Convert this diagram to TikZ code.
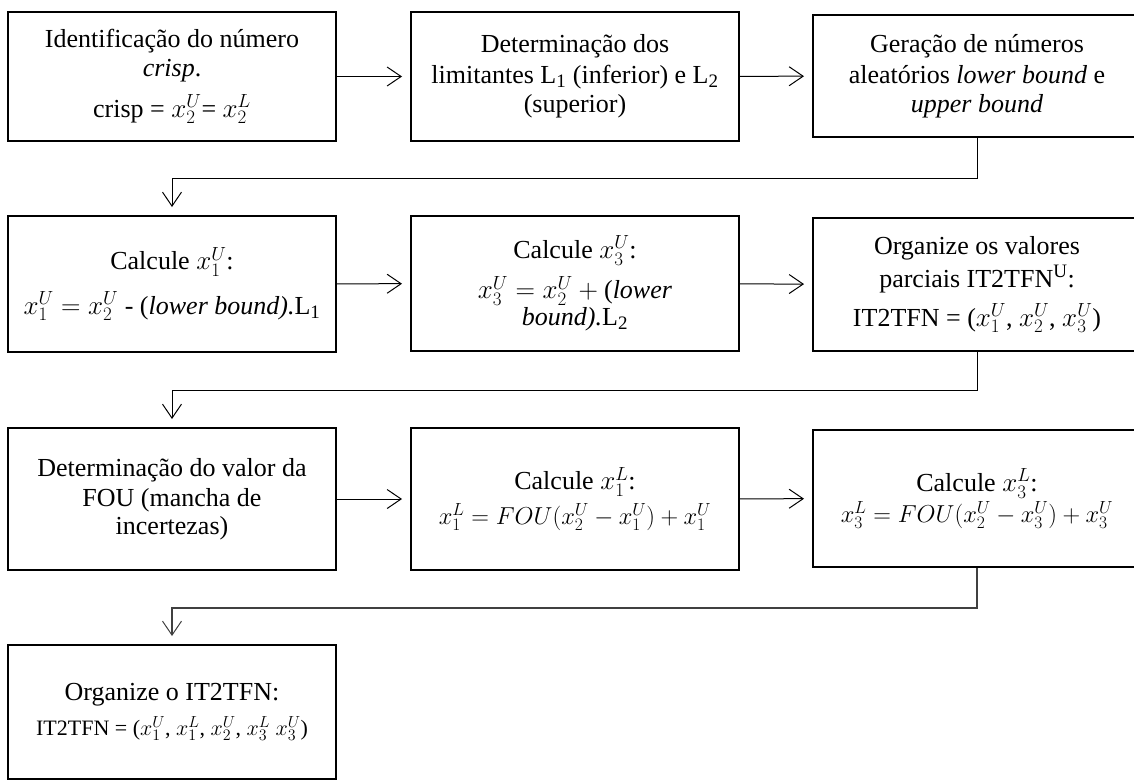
\RequirePackage{fix-cm}
\documentclass[tikz,border=0pt]{standalone}
\usepackage{fontspec}
\setmainfont{Liberation Serif}
\usetikzlibrary{arrows.meta}

% math sizes beside the serif text
\DeclareMathSizes{26}{27}{19}{14}
\DeclareMathSizes{24}{24.5}{17.5}{13}
\DeclareMathSizes{22}{22}{16}{12}

\tikzset{
  stepbox/.style={draw=black, line width=2pt, minimum width=328pt, inner sep=0pt,
    align=center, font=\fontsize{26}{29}\selectfont},
  flow/.style={draw=black, line width=1pt,
    -{Straight Barb[length=14pt,width=19pt,line width=1pt]}, shorten >=8pt},
}
\newcommand\eqsize{\fontsize{24}{29}\selectfont}

\begin{document}
\begin{tikzpicture}[x=1pt,y=-1pt]
\useasboundingbox (0,0) rectangle (1134,782);
\clip (0,0) rectangle (1134,782);

% first row
\node[stepbox, minimum height=129pt] (b1) at (172,76.5)
  {Identificação do número\\ \textit{crisp}.\\[12pt] crisp = $x_2^U$= $x_2^L$};
\node[stepbox, minimum height=129pt] (b2) at (575,76.5)
  {Determinação dos\\[2pt] limitantes L\textsubscript{1} (inferior) e L\textsubscript{2}\\ (superior)};
\node[stepbox, minimum height=122pt] (b3) at (977,76)
  {Geração de números\\[2pt] aleatórios \textit{lower bound} e\\ \textit{upper bound}};

% second row
\node[stepbox, minimum height=136pt] (b4) at (172,284)
  {Calcule $x_1^U$:\\[14pt] $x_1^U = x_2^U$ - (\textit{lower bound).}L\textsubscript{1}};
\node[stepbox, minimum height=135pt] (b5) at (575,283.5)
  {Calcule $x_3^U$:\\[10pt] $x_3^U = x_2^U +{}$(\textit{lower}\\[-2pt] \textit{bound).}L\textsubscript{2}};
\node[stepbox, minimum height=133pt] (b6) at (977,284.5)
  {Organize os valores\\[4pt] parciais IT2TFN\textsuperscript{U}:\\[10pt] IT2TFN = ($x_1^U$, $x_2^U$, $x_3^U$)};

% third row
\node[stepbox, minimum height=142pt] (b7) at (172,499)
  {Determinação do valor da\\[1pt] FOU (mancha de\\[-1pt] incertezas)};
\node[stepbox, minimum height=142pt] (b8) at (575,499)
  {Calcule $x_1^L$:\\[6pt] {\eqsize $x_1^L = FOU\bigl(x_2^U - x_1^U\bigr) + x_1^U$}};
\node[stepbox, minimum height=137pt] (b9) at (977,498.5)
  {Calcule $x_3^L$:\\[2pt] {\eqsize $x_3^L = FOU\bigl(x_2^U - x_3^U\bigr) + x_3^U$}};

% last row
\node[stepbox, minimum height=134pt] (b10) at (172,712)
  {Organize o IT2TFN:\\[6pt] {\fontsize{22}{26}\selectfont IT2TFN = ($x_1^U$, $x_1^L$, $x_2^U$, $x_3^L$ $x_3^U$)}};

% connectors within rows
\draw[flow] (b1) -- (b2);
\draw[flow] (b2) -- (b3);
\draw[flow] (b4) -- (b5);
\draw[flow] (b5) -- (b6);
\draw[flow] (b7) -- (b8);
\draw[flow] (b8) -- (b9);

% connectors between rows
\draw[flow] (b3.south) -- ++(0,40) -| (b4.north);
\draw[flow] (b6.south) -- ++(0,38) -| (b7.north);
\draw[flow, draw=black!75, line width=1.3pt] (b9.south) -- ++(0,40) -| (b10.north);
\end{tikzpicture}
\end{document}
